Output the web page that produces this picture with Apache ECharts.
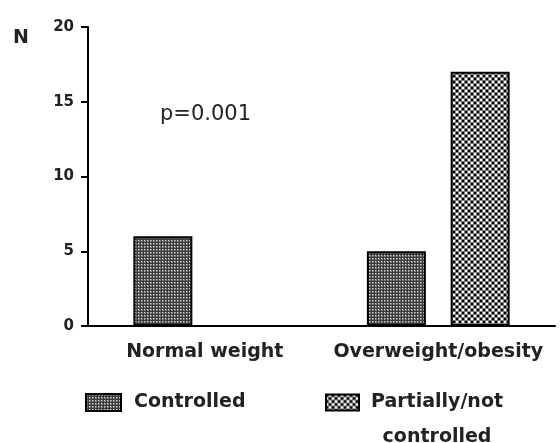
<!DOCTYPE html>
<html>
<head>
<meta charset="utf-8">
<script src="https://cdn.jsdelivr.net/npm/echarts@6/dist/echarts.min.js"></script>
<style>
html, body { margin: 0; padding: 0; background: #fff; }
#main { width: 560px; height: 443px; }
</style>
</head>
<body>
<div id="main"></div>
<script>
var categories = ['Normal weight', 'Overweight/obesity'];
var controlled = [6, 5];
var partially = [0, 17];
var yTicks = [0, 20, 5];   // min, max, interval

// small tiles to imitate the printed hatching
function tile(size, draw) {
	var c = document.createElement('canvas');
	c.width = size;
	c.height = size;
	draw(c.getContext('2d'));
	return c;
}
var fineDots = tile(3, function(ctx) {
	ctx.fillStyle = '#7a7a7a';
	ctx.fillRect(0, 0, 3, 3);
	ctx.fillStyle = '#dedede';
	ctx.fillRect(0, 0, 1, 1);
	ctx.fillStyle = '#3a3a3a';
	ctx.fillRect(0, 2, 3, 1);
	ctx.fillRect(2, 0, 1, 3);
});
var bigDots = tile(6, function(ctx) {
	ctx.fillStyle = '#7c7c7c';
	ctx.fillRect(0, 0, 6, 6);
	ctx.fillStyle = '#000';
	ctx.fillRect(0, 0, 2, 2);
	ctx.fillRect(3, 3, 2, 2);
	ctx.fillStyle = '#fff';
	ctx.fillRect(3, 0, 2, 2);
	ctx.fillRect(0, 3, 2, 2);
});

var myChart = echarts.init(document.getElementById('main'));
var font = 'DejaVu Sans';

option = {
	animation: false,
	backgroundColor: '#fff',
	grid: {
		left: 88,
		right: 5,
		top: 27,
		bottom: 117
	},
	legend: [{
		data: ['Controlled'],
		left: 85,
		top: 393,
		padding: 0,
		itemWidth: 35,
		itemHeight: 17,
		icon: 'rect',
		itemStyle: { borderColor: '#000', borderWidth: 2 },
		textStyle: { fontFamily: font, fontWeight: 'bold', fontSize: 19, color: '#222', padding: [0, 0, 0, 8] }
	}, {
		data: ['Partially/not controlled'],
		left: 325,
		top: 393,
		padding: 0,
		itemWidth: 33,
		itemHeight: 16,
		icon: 'rect',
		itemStyle: { borderColor: '#000', borderWidth: 2 },
		formatter: function() {
			return '{a|Partially/not}\n{b|controlled}';
		},
		textStyle: {
			fontFamily: font, fontWeight: 'bold', fontSize: 19, color: '#222',
			padding: [35, 0, 0, 7],
			rich: {
				a: { fontFamily: font, fontWeight: 'bold', fontSize: 19, color: '#222', lineHeight: 35 },
				b: { fontFamily: font, fontWeight: 'bold', fontSize: 19, color: '#222', lineHeight: 35, align: 'center' }
			}
		}
	}],
	xAxis: {
		type: 'category',
		data: categories,
		axisLine: { lineStyle: { color: '#000', width: 2 } },
		axisTick: { alignWithLabel: true, length: 6, lineStyle: { color: '#000', width: 2 } },
		axisLabel: { interval: 0, fontFamily: font, fontWeight: 'bold', fontSize: 19, color: '#222', margin: 17 }
	},
	yAxis: {
		type: 'value',
		name: 'N',
		nameLocation: 'end',
		nameGap: 0,
		nameTextStyle: { fontFamily: font, fontWeight: 'bold', fontSize: 19, color: '#222', padding: [0, 134, -21, 0] },
		min: yTicks[0],
		max: yTicks[1],
		interval: yTicks[2],
		splitLine: { show: false },
		axisLine: { show: true, lineStyle: { color: '#000', width: 2 } },
		axisTick: { show: true, length: 7, lineStyle: { color: '#000', width: 2 } },
		axisLabel: { fontFamily: font, fontWeight: 'bold', fontSize: 15, color: '#222', margin: 14 }
	},
	series: [{
		name: 'Controlled',
		type: 'bar',
		data: controlled,
		barWidth: 59,
		barGap: '42%',
		itemStyle: {
			color: { image: fineDots, repeat: 'repeat' },
			borderColor: '#000',
			borderWidth: 2
		}
	}, {
		name: 'Partially/not controlled',
		type: 'bar',
		data: partially,
		barWidth: 59,
		itemStyle: {
			color: { image: bigDots, repeat: 'repeat' },
			borderColor: '#000',
			borderWidth: 2
		}
	}],
	graphic: [{
		type: 'text',
		left: 160,
		top: 104,
		style: { text: 'p=0.001', fontFamily: font, fontSize: 21, fill: '#222' }
	}]
};

myChart.setOption(option);
</script>
</body>
</html>
